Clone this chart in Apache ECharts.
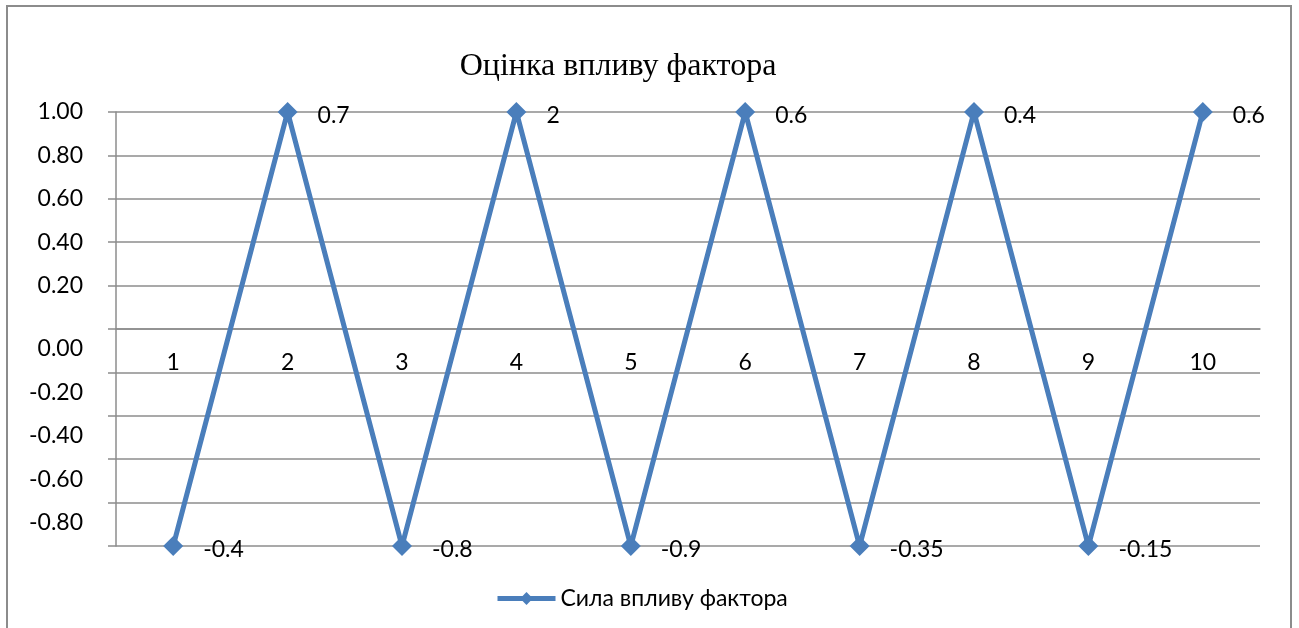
<!DOCTYPE html>
<html>
<head>
<meta charset="utf-8">
<script src="https://cdn.jsdelivr.net/npm/echarts@6/dist/echarts.min.js"></script>
<style>
html,body{margin:0;padding:0;background:#fff;}
#c{width:1299px;height:628px;}
</style>
</head>
<body>
<div id="c"></div>
<script>
const titleText = 'Оцінка впливу фактора';
const seriesName = 'Сила впливу фактора';
const categories = ['1','2','3','4','5','6','7','8','9','10'];
const values = [-0.8, 1.0, -0.8, 1.0, -0.8, 1.0, -0.8, 1.0, -0.8, 1.0];
const pointLabels = ['-0.4','0.7','-0.8','2','-0.9','0.6','-0.35','0.4','-0.15','0.6'];
// tick labels listed from the bottom gridline upward
const yTickLabels = ['', '-0.80', '-0.60', '-0.40', '-0.20', '0.00', '0.20', '0.40', '0.60', '0.80', '1.00'];
const yMin = -0.8, yMax = 1.0, yStep = 0.18;

const FONT = 'Lato, "Noto Sans", sans-serif';
const BLUE = '#4a7ebb';
const GRID = '#8c8c8c';

const chart = echarts.init(document.getElementById('c'));
chart.setOption({
  backgroundColor: '#fff',
  animation: false,
  title: {
    text: titleText,
    left: 613, top: 46, textAlign: 'center',
    textStyle: {fontFamily: '"Liberation Serif", "Times New Roman", serif', fontSize: 32, fontWeight: 'normal', color: '#000'}
  },
  graphic: [{
    type: 'rect', shape: {x: 7, y: 6, width: 1284, height: 640},
    style: {fill: 'none', stroke: '#8c8c8c', lineWidth: 2}, silent: true, z: -1
  }],
  legend: {
    left: 490, top: 582,
    itemWidth: 58, itemHeight: 16, itemGap: 5,
    lineStyle: {width: 5, color: BLUE},
    itemStyle: {color: BLUE},
    textStyle: {fontFamily: FONT, fontSize: 23, color: '#000'},
    data: [seriesName]
  },
  grid: {left: 116, right: 39, top: 112, bottom: 82, containLabel: false},
  xAxis: {
    type: 'category', data: categories, boundaryGap: true,
    position: 'bottom', offset: -217,
    axisLine: {onZero: false, lineStyle: {color: GRID, width: 1.5}},
    axisTick: {show: false},
    axisLabel: {margin: 22, fontFamily: FONT, fontSize: 23, color: '#000'},
    splitLine: {show: false}
  },
  yAxis: {
    type: 'value', min: yMin, max: yMax, interval: yStep,
    axisLine: {show: true, lineStyle: {color: GRID, width: 1.5}},
    axisTick: {show: true, length: 8, lineStyle: {color: GRID, width: 1.5}},
    splitLine: {show: true, lineStyle: {color: GRID, width: 1.5}},
    axisLabel: {
      margin: 33, fontFamily: FONT, fontSize: 23, color: '#000', lineHeight: 40,
      formatter: function (v, i) {
        const t = yTickLabels[i] || '';
        if (!t) return '';
        return i <= 5 ? '\n' + t : t;
      }
    }
  },
  series: [{
    name: seriesName, type: 'line', data: values,
    symbol: 'diamond', symbolSize: 20,
    lineStyle: {color: BLUE, width: 5},
    itemStyle: {color: BLUE},
    label: {
      show: true, position: 'right', distance: 20, offset: [0, 4],
      fontFamily: FONT, fontSize: 23, color: '#000',
      formatter: p => pointLabels[p.dataIndex]
    }
  }]
});
</script>
</body>
</html>
